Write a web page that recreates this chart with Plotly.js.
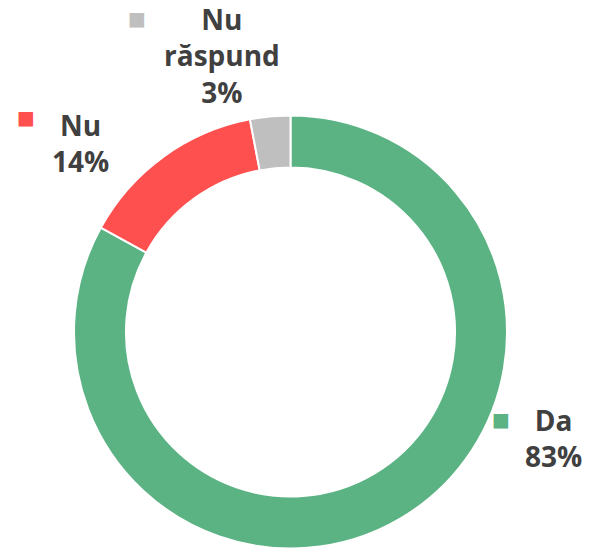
<!DOCTYPE html>
<html>
<head>
<meta charset="utf-8">
<script src="https://cdn.plot.ly/plotly-3.0.1.min.js"></script>
<style>html,body{margin:0;padding:0;background:#fff;}#chart{width:597px;height:550px;}</style>
</head>
<body>
<div id="chart"></div>
<script>
const labels = ["Da", "Nu", "Nu<br>răspund"];
const values = [83, 14, 3];
const colors = ["#5BB383", "#FF5050", "#BFBFBF"];

// label layout (paper coords): text center x, text center y, marker x, marker y
const labelPos = [
  {tx: 553/597, ty: 1 - 438/550, mx: 501/597, my: 1 - 419/550},
  {tx: 80/597,  ty: 1 - 143/550, mx: 26/597,  my: 1 - 117/550},
  {tx: 222/597, ty: 1 - 56/550,  mx: 137/597, my: 1 - 18/550}
];

const total = values.reduce((a, b) => a + b, 0);
const font = {family: "Open Sans, DejaVu Sans, sans-serif", size: 28, color: "#404040", weight: 700};

const annotations = [];
labels.forEach((lab, i) => {
  const pct = Math.round(values[i] / total * 100) + "%";
  annotations.push({
    xref: "paper", yref: "paper", x: labelPos[i].tx, y: labelPos[i].ty,
    xanchor: "center", yanchor: "middle", showarrow: false, align: "center",
    text: "<b>" + lab + "<br>" + pct + "</b>", font: font
  });
  annotations.push({
    xref: "paper", yref: "paper", x: labelPos[i].mx, y: labelPos[i].my,
    xanchor: "center", yanchor: "middle", showarrow: false,
    text: "■", font: {family: "DejaVu Sans", size: 19, color: colors[i]}
  });
});

const data = [{
  type: "pie",
  labels: labels,
  values: values,
  hole: 0.76,
  sort: false,
  direction: "clockwise",
  rotation: 0,
  textinfo: "none",
  hoverinfo: "label+percent",
  marker: {colors: colors, line: {color: "#ffffff", width: 2}},
  domain: {x: [74/597, 507/597], y: [1 - 549/550, 1 - 115/550]},
  showlegend: false
}];

const layout = {
  width: 597, height: 550,
  margin: {l: 0, r: 0, t: 0, b: 0},
  paper_bgcolor: "#ffffff",
  showlegend: false,
  annotations: annotations
};

Plotly.newPlot("chart", data, layout, {displayModeBar: false, staticPlot: true});
</script>
</body>
</html>
